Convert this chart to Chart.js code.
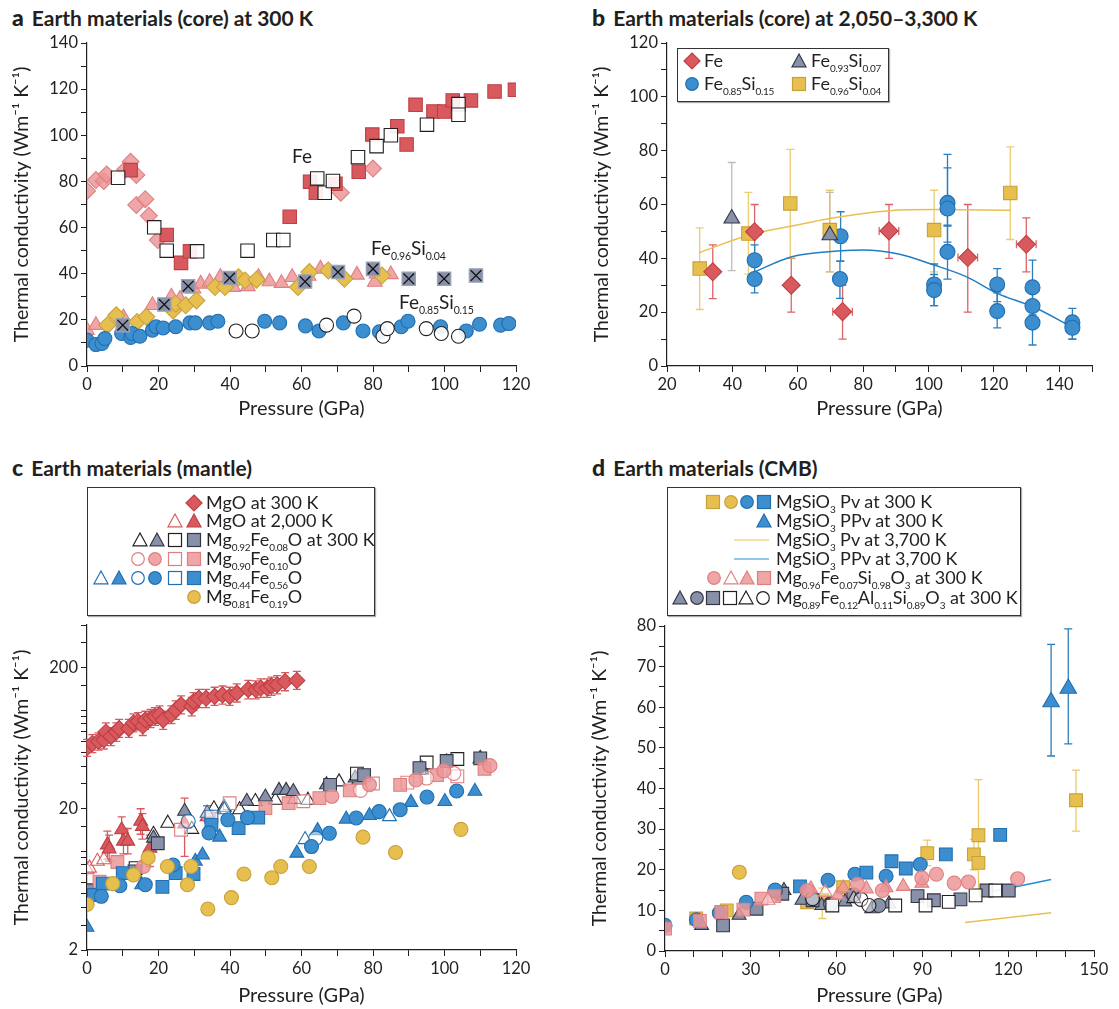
<!DOCTYPE html>
<html>
<head>
<meta charset="utf-8">
<script src="https://cdn.jsdelivr.net/npm/chart.js@4.4.0/dist/chart.umd.min.js"></script>
<style>
  body { margin: 0; background: #fff; }
  #fig { position: relative; width: 1119px; height: 1009px; font-family: Lato, 'Noto Sans', sans-serif; color: #231f20; overflow: hidden; }
  canvas { position: absolute; }
  .ttl { position: absolute; font-weight: bold; font-size: 21px; white-space: nowrap; line-height: 22px; }
  .ttl b { font-size: 23px; margin-right: 8px; }
  .lab { position: absolute; font-size: 19px; white-space: nowrap; line-height: 20px; }
  sub { font-size: 10.5px; letter-spacing: -0.2px; vertical-align: -0.45em; line-height: 0; }
  .row sub { font-size: 10px; letter-spacing: -0.3px; }
  .leg { position: absolute; border: 1.3px solid #333; box-shadow: 1px 1px 1px #aaa; background: #fff; }
  .row { position: absolute; font-size: 18px; white-space: nowrap; line-height: 20px; }
  svg.sym { position: absolute; overflow: visible; }
</style>
</head>
<body>
<div id="fig">
  <div class="ttl" style="left:12px;top:6px"><b>a</b>Earth materials (core) at 300 K</div>
  <div class="ttl" style="left:592px;top:6px"><b>b</b>Earth materials (core) at 2,050–3,300 K</div>
  <div class="ttl" style="left:12px;top:456px"><b>c</b>Earth materials (mantle)</div>
  <div class="ttl" style="left:592px;top:456px"><b>d</b>Earth materials (CMB)</div>

  <canvas id="chartA" width="546" height="400" style="left:0;top:28px"></canvas>
  <canvas id="chartB" width="537" height="400" style="left:580px;top:28px"></canvas>
  <canvas id="chartC" width="546" height="399" style="left:0;top:610px"></canvas>
  <canvas id="chartD" width="541" height="398" style="left:578px;top:611px"></canvas>

  <div class="lab" style="left:292px;top:146px">Fe</div>
  <div class="lab" style="left:371px;top:238px">Fe<sub>0.96</sub>Si<sub>0.04</sub></div>
  <div class="lab" style="left:399px;top:292px">Fe<sub>0.85</sub>Si<sub>0.15</sub></div>

  <div class="leg" style="left:677px;top:48px;width:210px;height:52px"></div>
  <div class="leg" style="left:87px;top:487px;width:286px;height:127px"></div>
  <div class="leg" style="left:667px;top:487px;width:352px;height:127px"></div>
</div>

<script>
// ---------- colours ----------
const INK = '#231f20';
const RED = '#d95a5e', RED_E = '#bf3f44';
const PINK = 'rgba(236,150,152,0.85)', PINK_E = '#e07f82';
const BLUE = '#3d8ecf', BLUE_E = '#1f6fb2';
const YEL = '#e7bf4e', YEL_E = '#c9a13a';
const SLATE = '#8891a8', SLATE_E = '#323746';
const WHITE = 'rgba(255,255,255,0.9)';
const FONT = 'Lato';

// ---------- a: core at 300 K ----------
const aXLabels = [0, 20, 40, 60, 80, 100, 120];
const aYLabels = [0, 20, 40, 60, 80, 100, 120, 140];
const aFeDiamond = [[0,75.9],[2.5,80.6],[4.7,80.2],[5.5,83],[10.7,85.2],[12.2,88.5],[13.8,82.8],[13.8,69.8],[16.3,72.3],[17.3,65.1],[19.8,54.6],[71,75.1],[80,85.6]];
const aFeSquare = [[12.2,84.9],[22.3,56.8],[26.3,44.7],[28.8,49.7],[56.7,64.7],[62.4,79.9],[64,75.1],[69.5,79],[76,84.2],[79.8,100.3],[86.8,103.9],[89.4,96],[91.9,113.2],[96.9,110.3],[99.9,110.3],[102.3,115.1],[107.4,115.1],[114,119],[119.7,119.7]];
const aFeOpenSq = [[8.7,81.6],[18.8,60.1],[22.3,50],[30.8,49.7],[44.9,50],[52.1,54.6],[54.9,54.6],[64.4,81.3],[66.5,75.1],[68.8,80.2],[75.8,90.5],[81,95.3],[85,100],[95.1,104.6],[103.9,113.5],[103.9,108.9]];
const aSi04Tri = [[0,15.5],[2.5,17.7],[10.2,21],[18.3,26.3],[23.6,30],[26,29],[29.8,33.5],[31.8,35.6],[34.3,36.4],[37.3,38.5],[40.9,34.2],[45,34.5],[48,38.5],[51,36.6],[54.4,35.9],[57.4,38.5],[62,39],[65.3,42.1],[75.5,39.5],[80.5,36.4],[81,40],[85,39.7]];
const aSi04Diamond = [[5.7,17.7],[8.2,22],[14,19.1],[16.6,21.3],[24.1,24.1],[24.8,27],[27.6,26.3],[30.6,28.4],[35.8,34.2],[38.6,34.2],[42.4,38.5],[44.2,37.1],[47.4,37.4],[59,34.2],[62.2,40.7],[67.5,41.4],[72,37.8],[82.5,39.2]];
const aSi04Cross = [[10,17.7],[21.6,26.7],[28.3,34.6],[39.9,38.1],[61,36.6],[70.2,40.7],[80,42.1],[90,37.8],[99.9,37.8],[108.8,39.2]];
const aSi15Circle = [[0,11.2],[2.5,9.3],[4.2,9.8],[5,11.9],[9.7,14.1],[12.2,12.4],[12.6,14.1],[14.8,12.9],[18.3,15.5],[19.3,17],[21.3,16.5],[24.8,17],[28.8,18.7],[30.3,18.7],[34.3,18.7],[36.6,19.4],[49.7,19.4],[53.9,18.7],[61.1,17.4],[64.9,15.2],[71.7,18.7],[77.2,15.2],[81.8,14.8],[87.9,17],[89.8,19.4],[98.9,17],[106.1,15.2],[109.8,18.1],[115.7,17.7],[118,18.4]];
const aSi15Open = [[41.7,15.2],[46.2,15.2],[67,17.7],[74.7,21.6],[82.8,12.9],[84,16.2],[94.9,16.2],[99.1,14.1],[103.9,12.9]];

// ---------- b: core at 2,050–3,300 K  [x, y, low, high, xErr] ----------
const bXLabels = [20, 40, 60, 80, 100, 120, 140];
const bYLabels = [0, 20, 40, 60, 80, 100, 120];
const bFe = [[34,35,25,45,0],[46.8,49.9,39.6,60,2],[58,30,20,40,0],[73.7,20.2,10,30,3],[87.9,50.2,40,60,3],[112,40.3,20,60,3],[129.9,45.2,35,55,3]];
const bSi07 = [[39.8,54.8,35.4,75.6,0],[69.8,48.6,35,64.5,0]];
const bSi15 = [[46.8,39.3,33,45,0],[46.8,32.3,27.2,38,0],[73.1,48.2,39,57.3,0],[72.9,32.3,25.1,39,0],[101.7,30.3,22.4,37.9,0],[101.7,28.2,22.4,34,0],[105.8,60.6,52,78.6,0],[105.8,58.5,46,73.6,0],[105.8,42.4,32.3,52.3,0],[121,30.3,23.9,36.2,0],[121,20.4,14.2,27.2,0],[131.8,29.2,19,39.3,0],[131.8,22.3,17,29,0],[131.8,16.1,7.8,22,0],[144,16.2,10,21.4,0],[144,14.2,10,18.5,0]];
const bSi04 = [[30,36.2,21,51.3,0],[44.9,49.2,34.1,64.5,0],[57.7,60.4,40,80.5,0],[69.8,50.5,35,65.3,0],[101.7,50.5,35,65.3,0],[125,64.3,47,81.4,0]];
const bSi04Fit = [[29.8,42.1],[44.9,48.6],[58.2,52],[69.8,54.8],[88.1,57.7],[101.7,58.1],[125,57.9]];
const bSi15Fit = [[46.8,35],[58.2,40.6],[73.4,42.8],[80,43.1],[90.8,41.6],[101.7,37.5],[111.5,33.2],[121,27],[132,22],[143.7,14.6]];

// ---------- c: mantle (log scale) ----------
const cXLabels = [0, 20, 40, 60, 80, 100, 120];
const cYLabels = [2, 20, 200];
const cMgO300 = [[0,54,47,62],[1.5,58,50,67],[3.2,60,52,69],[4.7,61.5,53,71],[5.3,70,60,81],[6.7,65,56,75],[8.2,70,60,81],[9,74,64,86],[11.7,74,64,86],[13,81,70,94],[14.3,83,72,96],[15.6,77,66,89],[16.3,85,73,98],[17.8,87.5,75,101],[19,90,78,104],[20.3,92.5,80,107],[21.3,85,73,98],[23.6,92.5,80,107],[24.8,100,86,116],[26.3,109,94,126],[29.3,106,91,123],[29.8,115,99,133],[31.3,121,104,140],[33.3,121,104,140],[35.7,125,108,145],[37.9,128,110,148],[39.9,125,108,145],[41.9,132,114,153],[45.1,140,120,162],[47.2,139,120,161],[48.6,143,123,166],[50.4,143,123,166],[51.6,148,127,171],[53.2,151,130,175],[55.4,159,137,184],[58.7,162,140,188]];
const cMgO2000Open = [[0,7.4],[0.7,7.6],[2.9,8.5],[4.7,8.7]];
const cMgO2000 = [[5.7,11.1,8.8,13.9],[6.2,10.4,8.5,13],[9.7,14.2,11.5,17.5],[10.2,11.8,9.6,14.5],[11.4,11.8,9.6,14.5],[15,16.3,13.2,20],[15.5,15,12.2,18.5],[17.6,10.5,7.8,13],[27.3,15.6,9.2,23.8],[33.6,17.6,14.2,21]];
const cFe08OpenTri = [[18.6,13.2],[22.6,15.8],[29.3,14.3],[35.5,20],[38.4,20.5],[42.7,19.7],[47.1,22.5],[52.7,23],[58,23.3],[61.8,23],[70.5,31],[76,31.9],[93.6,37.7],[110,45]];
const cFe08Tri = [[18.6,12.4],[27.3,19.2],[44.7,22.6],[49.9,24.2],[53.7,27],[55.7,27],[57.7,26.5],[67,29.6],[75,33],[93.6,39],[100.6,43],[110,45.5]];
const cFe08OpenSq = [[13.6,7.6],[75.5,35.5],[95,42.5],[103.6,45]];
const cFe08Sq = [[0,5.3],[13.3,7.2],[19.8,11.4],[68,29.5],[77.5,34.6],[93,38.8],[100.6,43.6],[110,45.5]];
const cFe10OpenCirc = [[76.5,27],[95,33],[102.6,35.6]];
const cFe10Circ = [[15.8,7.8],[34.1,17.6],[68.5,24.5],[79,29.6],[92,32],[99.8,37.1],[112.7,40.4]];
const cFe10OpenSq = [[26.3,14.2],[39.9,21.9],[60.5,22.6],[80,30.2],[89.6,30.6],[103.6,33.9]];
const cFe10Sq = [[0,4.7],[3.5,6.1],[8.5,8.4],[49.9,20.2],[56.4,21.9],[65,23.8],[73.5,27],[87.6,29.5],[97.9,34.6],[111.2,38.4]];
const cFe56OpenTri = [[33.6,18.6],[38.4,19.7],[61,12.1],[84.6,17.6]];
const cFe56Tri = [[0,2.9],[15.3,5.8],[30.3,8.5],[32.3,9.4],[37.1,12.6],[58.7,9.7],[64.5,14],[72.5,16.9],[79,17.9],[90.6,22.2],[100.1,22.5],[108.5,26.6]];
const cFe56OpenCirc = [[28.3,16.3],[64,12.4]];
const cFe56Circ = [[4,4.8],[9.2,5.7],[16.3,5.8],[24.1,8],[34.1,13.5],[39.4,16.7],[44.9,17.3],[62.8,10.8],[67.8,13.4],[75.3,17.2],[81.7,19.1],[87.6,19.7],[95.1,24.2],[103.4,26.7]];
const cFe56OpenSq = [[34.8,17.6]];
const cFe56Sq = [[1.9,4.9],[4.4,5.9],[10,7],[21.1,5.6],[24.8,7],[29.8,6.9],[34.8,15.4],[42.4,14.6],[47.9,17.3]];
const cFe19Circ = [[0,4.2],[7.2,5.9],[13,6.8],[17.1,9],[22.5,7.8],[28.1,5.8],[29.1,7.8],[33.8,3.9],[40.4,4.7],[43.9,6.9],[51.7,6.5],[54.2,7.8],[62.2,7.8],[77.2,12.6],[86.3,9.8],[104.6,14.3]];

// ---------- d: CMB ----------
const dXLabels = [0, 30, 60, 90, 120, 150];
const dYLabels = [0, 10, 20, 30, 40, 50, 60, 70, 80];
const dPvYelSq = [[10.9,8,0,0],[21.6,10,0,0],[49.7,12,0,0],[55,12.5,8,15.5],[62.3,15.7,0,0],[91.7,24.1,21,27.3],[108,23.8,20,27.5],[109.6,28.5,14.5,42.2],[109.6,21.7,0,0],[143.7,37.1,29.5,44.5]];
const dPvYelCirc = [[26,19.4]];
const dPvBlueCirc = [[0,6.3],[11,7.7],[19,9.4],[28.4,12],[38.5,15],[57,17.4],[66.4,18.9],[77.3,18.4],[89.2,21.3]];
const dPvBlueSq = [[47.2,15.9],[70.4,19.3],[79.2,22.1],[84.2,20.3],[98.2,23.8],[117.2,28.6]];
const dPPvTri = [[135,61.3,48,75.5],[141,64.6,51,79.3]];
const dPvHot = [[104.9,7],[135,9.4]];
const dPPvHot = [[112,14.3],[135,17.6]];
const dFe07Circ = [[49.7,14.9],[67.3,16.4],[76,14.9],[89.8,18],[94.9,18.9],[101.1,16.7],[106.1,17],[123.3,17.8]];
const dFe07OpenTri = [[36,12.5],[56,14.5]];
const dFe07Tri = [[51,15.3],[60.4,13.7],[62.3,15.5],[70.4,15.3],[77.3,15.6],[83.3,15.9],[89.8,16.7]];
const dFe07Sq = [[0,5.5],[12.2,7.4],[19.7,9.6],[27.4,10.2],[33.7,12.9],[38.2,13.5]];
const dAlTri = [[12.8,6.3],[25.9,8.8],[41.6,14.9],[47.9,12.5],[54.8,11.2],[62.9,12.1],[72.3,10.4],[78.3,11.6]];
const dAlCirc = [[57.9,11.6],[74.8,11.2],[66,13.8]];
const dAlSq = [[20.3,6.3],[32,10.4],[41,14.1],[51.6,12.5],[88.3,13.5],[94,12.5],[103.3,12.7],[112.4,14.9],[120.2,14.9]];
const dAlOpenSq = [[58.5,11.2],[80.5,11.2],[91.1,11.2],[99.2,12.1],[108.6,13.7],[115.5,14.9]];
const dAlOpenTri = [[66,12.9]];
const dAlOpenCirc = [[38.5,14.8],[51.6,12.9],[68.5,12.7],[71.3,11.2]];

// ---------- helpers ----------
function pts(arr) {
  return arr.map(p => ({ x: p[0], y: p[1], yMin: p[2] || null, yMax: p[3] || null, xErr: p[4] || 0 }));
}

function marks(arr, style, fill, edge, r, extra) {
  return Object.assign({
    data: pts(arr), pointStyle: style, pointRadius: r,
    backgroundColor: fill, borderColor: edge, pointBorderWidth: 1.1
  }, extra || {});
}

function curve(arr, color) {
  return {
    type: 'line', data: pts(arr), showLine: true, pointRadius: 0,
    borderColor: color, borderWidth: 1.5, tension: 0.4, cubicInterpolationMode: 'monotone', fill: false
  };
}

// error bars, drawn behind the markers
const errorBars = {
  id: 'errorBars',
  beforeDatasetsDraw(chart) {
    const ctx = chart.ctx, xs = chart.scales.x, ys = chart.scales.y;
    chart.data.datasets.forEach(d => {
      if (!d.errColor) return;
      ctx.save();
      ctx.strokeStyle = d.errColor;
      ctx.lineWidth = 1.3;
      d.data.forEach(p => {
        const px = xs.getPixelForValue(p.x), py = ys.getPixelForValue(p.y);
        ctx.beginPath();
        if (p.yMin != null) {
          const a = ys.getPixelForValue(p.yMin), b = ys.getPixelForValue(p.yMax);
          ctx.moveTo(px, a); ctx.lineTo(px, b);
          ctx.moveTo(px - 4, a); ctx.lineTo(px + 4, a);
          ctx.moveTo(px - 4, b); ctx.lineTo(px + 4, b);
        }
        if (p.xErr) {
          const l = xs.getPixelForValue(p.x - p.xErr), r = xs.getPixelForValue(p.x + p.xErr);
          ctx.moveTo(l, py); ctx.lineTo(r, py);
          ctx.moveTo(l, py - 4); ctx.lineTo(l, py + 4);
          ctx.moveTo(r, py - 4); ctx.lineTo(r, py + 4);
        }
        ctx.stroke();
      });
      ctx.restore();
    });
  }
};

function axis(type, min, max, step, labels, title, size, horiz, titlePad) {
  const t = {
    type: type, min: min, max: max,
    ticks: {
      autoSkip: false, maxRotation: 0, padding: 3, color: INK,
      font: { family: FONT, size: 16.5 },
      callback: v => labels.includes(v) ? String(v) : ''
    },
    grid: { drawOnChartArea: false, tickLength: 6, color: INK, lineWidth: 1 },
    border: { color: INK, width: 1.2 },
    title: { display: true, text: title, color: INK, font: { family: FONT, size: horiz ? 20 : 19.5 }, padding: titlePad },
    afterFit: s => { if (horiz) s.height = size; else s.width = size; }
  };
  if (step) t.ticks.stepSize = step;
  return t;
}

const YTITLE = 'Thermal conductivity (Wm⁻¹ K⁻¹)';
const YPAD = { top: 10, bottom: 4 };
const YW = 87;

function build(id, padRight, datasets, xAxis, yAxis) {
  return new Chart(document.getElementById(id), {
    type: 'scatter',
    data: { datasets: datasets },
    options: {
      responsive: false, animation: false, events: [],
      layout: { padding: { top: 15, right: padRight, left: 0, bottom: 0 } },
      plugins: { legend: { display: false }, tooltip: { enabled: false } },
      scales: { x: xAxis, y: yAxis }
    },
    plugins: [errorBars]
  });
}

// ---------- panel a ----------
build('chartA', 30, [
  marks(aSi04Cross, 'crossRot', SLATE, '#111', 7.5, { pointBorderWidth: 1.3 }),
  marks(aSi04Cross, 'rect', SLATE, '#9aa2b6', 9.5),
  marks(aSi15Open, 'circle', WHITE, INK, 7),
  marks(aSi15Circle, 'circle', BLUE, BLUE_E, 7),
  marks(aSi04Diamond, 'rectRot', YEL, YEL_E, 8.5),
  marks(aSi04Tri, 'triangle', PINK, PINK_E, 8.5),
  marks(aFeOpenSq, 'rect', WHITE, INK, 9.5),
  marks(aFeSquare, 'rect', RED, RED_E, 9.5),
  marks(aFeDiamond, 'rectRot', PINK, PINK_E, 8.5)
],
  axis('linear', 0, 120, 10, aXLabels, 'Pressure (GPa)', 62, true, { top: 4, bottom: 7 }),
  axis('linear', 0, 140, 10, aYLabels, YTITLE, YW, false, YPAD));

// ---------- panel b ----------
build('chartB', 25, [
  marks(bSi07, 'triangle', SLATE, SLATE_E, 9, { errColor: '#bdbdbd' }),
  marks(bFe, 'rectRot', RED, RED_E, 9, { errColor: 'rgba(214,72,78,0.85)' }),
  marks(bSi04, 'rect', YEL, YEL_E, 9.5, { errColor: 'rgba(231,191,78,0.8)' }),
  marks(bSi15, 'circle', BLUE, BLUE_E, 7.5, { errColor: '#2a7fc0' }),
  curve(bSi04Fit, '#e9c04f'),
  curve(bSi15Fit, '#1f7fc6')
],
  axis('linear', 20, 150, 10, bXLabels, 'Pressure (GPa)', 62, true, { top: 4, bottom: 7 }),
  axis('linear', 0, 120, 10, bYLabels, YTITLE, YW, false, YPAD));

// ---------- panel c ----------
build('chartC', 30, [
  marks(cFe19Circ, 'circle', YEL, YEL_E, 7),
  marks(cFe56Circ, 'circle', BLUE, BLUE_E, 7),
  marks(cFe56OpenCirc, 'circle', 'rgba(255,255,255,0.5)', BLUE_E, 7),
  marks(cFe56Sq, 'rect', BLUE, BLUE_E, 9),
  marks(cFe56OpenSq, 'rect', 'rgba(255,255,255,0.5)', BLUE_E, 9),
  marks(cFe56Tri, 'triangle', BLUE, BLUE_E, 8),
  marks(cFe56OpenTri, 'triangle', 'rgba(255,255,255,0.5)', BLUE_E, 8),
  marks(cFe10Circ, 'circle', PINK, PINK_E, 7),
  marks(cFe10OpenCirc, 'circle', 'rgba(255,255,255,0.5)', PINK_E, 7),
  marks(cFe10Sq, 'rect', PINK, PINK_E, 9),
  marks(cFe10OpenSq, 'rect', 'rgba(255,255,255,0.5)', PINK_E, 9),
  marks(cFe08Sq, 'rect', SLATE, SLATE_E, 9),
  marks(cFe08OpenSq, 'rect', 'rgba(255,255,255,0.5)', INK, 9),
  marks(cFe08Tri, 'triangle', SLATE, SLATE_E, 8),
  marks(cFe08OpenTri, 'triangle', 'rgba(255,255,255,0.5)', INK, 8),
  marks(cMgO2000, 'triangle', RED, RED_E, 8, { errColor: RED }),
  marks(cMgO2000Open, 'triangle', 'rgba(255,255,255,0.5)', RED, 8),
  marks(cMgO300, 'rectRot', RED, RED_E, 8, { errColor: RED })
],
  axis('linear', 0, 120, 10, cXLabels, 'Pressure (GPa)', 59, true, { top: 4, bottom: 1 }),
  axis('logarithmic', 2, 400, 0, cYLabels, YTITLE, YW, false, YPAD));

// ---------- panel d ----------
build('chartD', 25, [
  marks(dPPvTri, 'triangle', BLUE, BLUE_E, 9.5, { errColor: '#2a7fc0' }),
  marks(dFe07Circ, 'circle', PINK, PINK_E, 7),
  marks(dFe07Tri, 'triangle', PINK, PINK_E, 8),
  marks(dFe07OpenTri, 'triangle', 'rgba(255,255,255,0.4)', PINK_E, 8),
  marks(dFe07Sq, 'rect', PINK, PINK_E, 9),
  marks(dPvBlueSq, 'rect', BLUE, BLUE_E, 9),
  marks(dPvBlueCirc, 'circle', BLUE, BLUE_E, 7),
  marks(dAlOpenCirc, 'circle', 'rgba(255,255,255,0.4)', INK, 7),
  marks(dAlOpenTri, 'triangle', 'rgba(255,255,255,0.4)', INK, 8),
  marks(dAlOpenSq, 'rect', 'rgba(255,255,255,0.9)', INK, 9),
  marks(dAlSq, 'rect', SLATE, SLATE_E, 9),
  marks(dAlCirc, 'circle', SLATE, SLATE_E, 7),
  marks(dAlTri, 'triangle', SLATE, SLATE_E, 8),
  marks(dPvYelCirc, 'circle', YEL, YEL_E, 7),
  marks(dPvYelSq, 'rect', YEL, YEL_E, 9, { errColor: 'rgba(231,191,78,0.85)' }),
  curve(dPvHot, '#e9c04f'),
  curve(dPPvHot, '#1f8fd6')
],
  axis('linear', 0, 150, 10, dXLabels, 'Pressure (GPa)', 58, true, { top: 4, bottom: 1 }),
  axis('linear', 0, 80, 5, dYLabels, YTITLE, YW, false, YPAD));

// ---------- legends (html text, svg markers) ----------
const fig = document.getElementById('fig');

function sym(shape, fill, edge, cx, cy) {
  const s = 14, h = 7;
  let body;
  if (shape === 'circle') body = `<circle cx="${h}" cy="${h}" r="6.3" />`;
  else if (shape === 'rect') body = `<rect x="0.5" y="0.5" width="13" height="13" />`;
  else if (shape === 'triangle') body = `<polygon points="7,0 14,12.8 0,12.8" />`;
  else if (shape === 'diamond') body = `<polygon points="7,-1 15,7 7,15 -1,7" />`;
  else if (shape === 'line') body = `<line x1="-10" y1="7" x2="25" y2="7" />`;
  const el = document.createElement('div');
  el.innerHTML = `<svg class="sym" width="${s}" height="${s}" style="left:${cx - h}px;top:${cy - h}px">
    <g fill="${fill}" stroke="${edge}" stroke-width="1.2">${body}</g></svg>`;
  fig.appendChild(el.firstChild);
}

function row(x, y, html) {
  const el = document.createElement('div');
  el.className = 'row';
  el.style.left = x + 'px';
  el.style.top = (y - 11) + 'px';
  el.innerHTML = html;
  fig.appendChild(el);
}

const OPEN = '#fff';

// b legend
sym('diamond', RED, RED_E, 692, 61); row(704, 61, 'Fe');
sym('triangle', SLATE, SLATE_E, 799, 61); row(811, 61, 'Fe<sub>0.93</sub>Si<sub>0.07</sub>');
sym('circle', BLUE, BLUE_E, 692, 84); row(704, 84, 'Fe<sub>0.85</sub>Si<sub>0.15</sub>');
sym('rect', YEL, YEL_E, 799, 84); row(811, 84, 'Fe<sub>0.96</sub>Si<sub>0.04</sub>');

// c legend
sym('diamond', RED, RED_E, 194, 503); row(206, 503, 'MgO at 300 K');
sym('triangle', OPEN, RED, 175, 521); sym('triangle', RED, RED_E, 194, 521); row(206, 521, 'MgO at 2,000 K');
sym('triangle', OPEN, INK, 140, 540); sym('triangle', SLATE, SLATE_E, 157, 540);
sym('rect', OPEN, INK, 175, 540); sym('rect', SLATE, SLATE_E, 194, 540);
row(206, 540, 'Mg<sub>0.92</sub>Fe<sub>0.08</sub>O at 300 K');
sym('circle', OPEN, PINK_E, 137.5, 559); sym('circle', PINK, PINK_E, 155, 559);
sym('rect', OPEN, PINK_E, 175, 559); sym('rect', PINK, PINK_E, 194, 559);
row(206, 559, 'Mg<sub>0.90</sub>Fe<sub>0.10</sub>O');
sym('triangle', OPEN, BLUE_E, 101, 578); sym('triangle', BLUE, BLUE_E, 119, 578);
sym('circle', OPEN, BLUE_E, 137.5, 578); sym('circle', BLUE, BLUE_E, 155, 578);
sym('rect', OPEN, BLUE_E, 175, 578); sym('rect', BLUE, BLUE_E, 194, 578);
row(206, 578, 'Mg<sub>0.44</sub>Fe<sub>0.56</sub>O');
sym('circle', YEL, YEL_E, 194, 597); row(206, 597, 'Mg<sub>0.81</sub>Fe<sub>0.19</sub>O');

// d legend
sym('rect', YEL, YEL_E, 713, 502); sym('circle', YEL, YEL_E, 731, 502);
sym('circle', BLUE, BLUE_E, 747, 502); sym('rect', BLUE, BLUE_E, 764, 502);
row(776, 502, 'MgSiO<sub>3</sub> Pv at 300 K');
sym('triangle', BLUE, BLUE_E, 764, 521); row(776, 521, 'MgSiO<sub>3</sub> PPv at 300 K');
sym('line', 'none', '#e9c04f', 751, 540); row(776, 540, 'MgSiO<sub>3</sub> Pv at 3,700 K');
sym('line', 'none', '#1f8fd6', 751, 559); row(776, 559, 'MgSiO<sub>3</sub> PPv at 3,700 K');
sym('circle', PINK, PINK_E, 714, 578); sym('triangle', OPEN, PINK_E, 731, 578);
sym('triangle', PINK, PINK_E, 747, 578); sym('rect', PINK, PINK_E, 764, 578);
row(776, 578, 'Mg<sub>0.96</sub>Fe<sub>0.07</sub>Si<sub>0.98</sub>O<sub>3</sub> at 300 K');
sym('triangle', SLATE, SLATE_E, 680, 598); sym('circle', SLATE, SLATE_E, 697, 598);
sym('rect', SLATE, SLATE_E, 713, 598); sym('rect', OPEN, INK, 730, 598);
sym('triangle', OPEN, INK, 746, 598); sym('circle', OPEN, INK, 763, 598);
row(776, 598, 'Mg<sub>0.89</sub>Fe<sub>0.12</sub>Al<sub>0.11</sub>Si<sub>0.89</sub>O<sub>3</sub> at 300 K');
</script>
</body>
</html>
